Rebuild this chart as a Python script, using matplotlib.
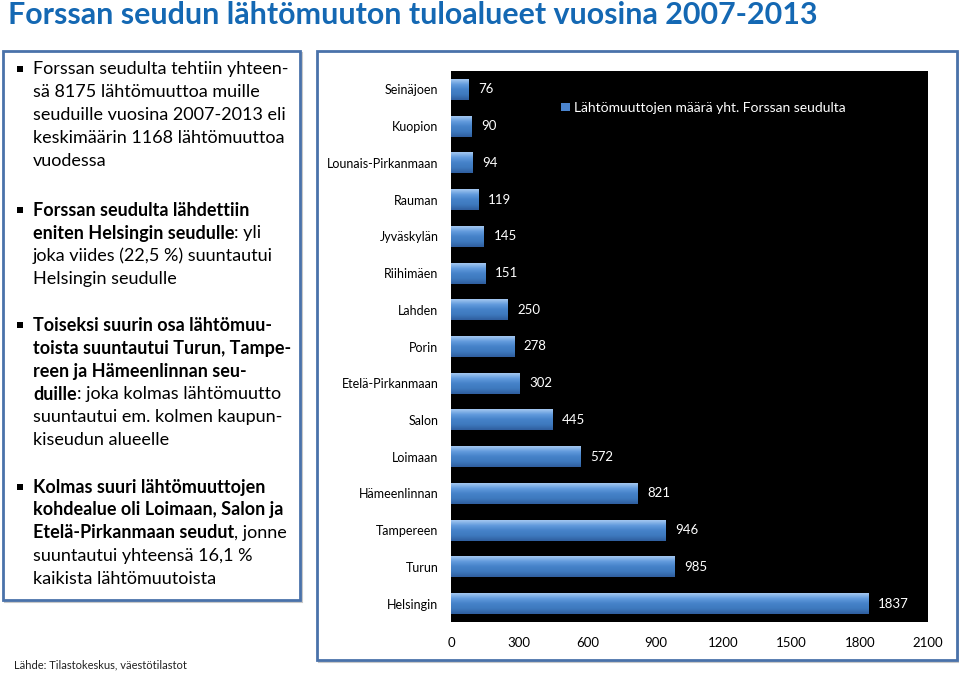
import numpy as np
import matplotlib
matplotlib.use('Agg')
import matplotlib.pyplot as plt
from matplotlib.patches import Rectangle
from matplotlib.colors import LinearSegmentedColormap

plt.rcParams['font.family'] = ['Lato', 'DejaVu Sans']

# ── data ──
regions = ['Seinäjoen', 'Kuopion', 'Lounais-Pirkanmaan', 'Rauman', 'Jyväskylän',
           'Riihimäen', 'Lahden', 'Porin', 'Etelä-Pirkanmaan', 'Salon', 'Loimaan',
           'Hämeenlinnan', 'Tampereen', 'Turun', 'Helsingin']
moves = [76, 90, 94, 119, 145, 151, 250, 278, 302, 445, 572, 821, 946, 985, 1837]
xticks = [0, 300, 600, 900, 1200, 1500, 1800, 2100]
legend_label = 'Lähtömuuttojen määrä yht. Forssan seudulta'

title = 'Forssan seudun lähtömuuton tuloalueet vuosina 2007-2013'
source = 'Lähde: Tilastokeskus, väestötilastot'

# bullet text: list of bullets, each a list of lines, each line a list of (text, bold)
bullets = [
    [[('Forssan seudulta tehtiin yhteen-', False)],
     [('sä 8175 lähtömuuttoa muille', False)],
     [('seuduille vuosina 2007-2013 eli', False)],
     [('keskimäärin 1168 lähtömuuttoa', False)],
     [('vuodessa', False)]],
    [[('Forssan seudulta lähdettiin', True)],
     [('eniten Helsingin seudulle', True), (': yli', False)],
     [('joka viides (22,5 %) suuntautui', False)],
     [('Helsingin seudulle', False)]],
    [[('Toiseksi suurin osa lähtömuu-', True)],
     [('toista suuntautui Turun, Tampe-', True)],
     [('reen ja Hämeenlinnan seu-', True)],
     [('duille', True), (': joka kolmas lähtömuutto', False)],
     [('suuntautui em. kolmen kaupun-', False)],
     [('kiseudun alueelle', False)]],
    [[('Kolmas suuri lähtömuuttojen', True)],
     [('kohdealue oli Loimaan, Salon ja', True)],
     [('Etelä-Pirkanmaan seudut', True), (', jonne', False)],
     [('suuntautui yhteensä 16,1 %', False)],
     [('kaikista lähtömuutoista', False)]],
]
bullet_tops = [69, 210, 325, 487]   # pixel y of first line centre

W, H = 959, 673
fig = plt.figure(figsize=(W / 100, H / 100), dpi=100)
fig.patch.set_facecolor('white')
BORDER = '#4A72AA'
TITLE_C = '#1468B3'


def px(x, y):
    return x / W, 1 - y / H


# ── boxes ──
for (x0, y0, x1, y1) in [(3, 51, 300, 600), (317, 51, 957, 660)]:
    fig.patches.append(Rectangle(px(x0 + 2, y1 + 2), (x1 - x0) / W, (y1 - y0) / H,
                                 transform=fig.transFigure, fc='none',
                                 ec='#C8C8C8', lw=1.5, zorder=0))
    fig.patches.append(Rectangle(px(x0, y1), (x1 - x0) / W, (y1 - y0) / H,
                                 transform=fig.transFigure, fc='white',
                                 ec=BORDER, lw=2.0, zorder=1))

# ── title ──
fig.text(*px(8, 15), title, fontsize=21.9, fontweight='bold', color=TITLE_C,
         ha='left', va='center')
fig.text(*px(14, 665), source, fontsize=8, color='#222222', ha='left', va='center')

# ── left text ──
renderer = fig.canvas.get_renderer()
LINE = 23
for bl, top in zip(bullets, bullet_tops):
    fig.patches.append(Rectangle(px(17, top + 3), 6 / W, 6 / H,
                                 transform=fig.transFigure, fc='black', ec='none',
                                 zorder=3))
    for i, line in enumerate(bl):
        x = 33
        y = top + i * LINE
        for seg, bold in line:
            t = fig.text(*px(x, y), seg, fontsize=13, color='black',
                         fontweight='bold' if bold else 'normal',
                         ha='left', va='center')
            x += t.get_window_extent(renderer).width

# ── chart ──
ax = fig.add_axes([451 / W, 1 - 622 / H, (928 - 451) / W, (622 - 71) / H])
ax.set_zorder(5)
ax.set_facecolor('black')
ypos = np.arange(len(regions))
bars = ax.barh(ypos, moves, height=0.57, color='#4A84CE', edgecolor='none',
               label=legend_label, zorder=2)

cmap = LinearSegmentedColormap.from_list(
    'bev', ['#A4C8F0', '#629BDD', '#4582C9', '#3E79BE', '#2F5E9F'])
grad = np.linspace(0, 1, 64).reshape(-1, 1)
for b in bars:
    x0, y0 = b.get_x(), b.get_y()
    w, h = b.get_width(), b.get_height()
    im = ax.imshow(grad, cmap=cmap, aspect='auto', extent=(x0, x0 + w, y0 + h, y0),
                   zorder=3, interpolation='bicubic')
    im.set_clip_path(b)

for yv, v in zip(ypos, moves):
    ax.annotate(str(v), (v, yv), xytext=(7, 0), textcoords='offset points',
                color='white', fontsize=9.5, va='center', ha='left', zorder=4)

ax.set_xlim(0, 2100)
ax.set_ylim(len(regions) - 0.5, -0.5)
ax.set_xticks(xticks)
ax.set_xticklabels([str(t) for t in xticks], fontsize=9.5)
ax.set_yticks(ypos)
ax.set_yticklabels(regions, fontsize=9)
ax.tick_params(axis='both', length=0)
ax.tick_params(axis='y', pad=9)
ax.tick_params(axis='x', pad=11)
for s in ax.spines.values():
    s.set_visible(False)

leg = ax.legend(loc='center left', bbox_to_anchor=(0.22, 0.933), frameon=False,
                fontsize=10, handlelength=0.6, handleheight=0.6, handletextpad=0.3,
                borderaxespad=0)
for t in leg.get_texts():
    t.set_color('white')

fig.savefig('out.png', dpi=100, facecolor='white')
